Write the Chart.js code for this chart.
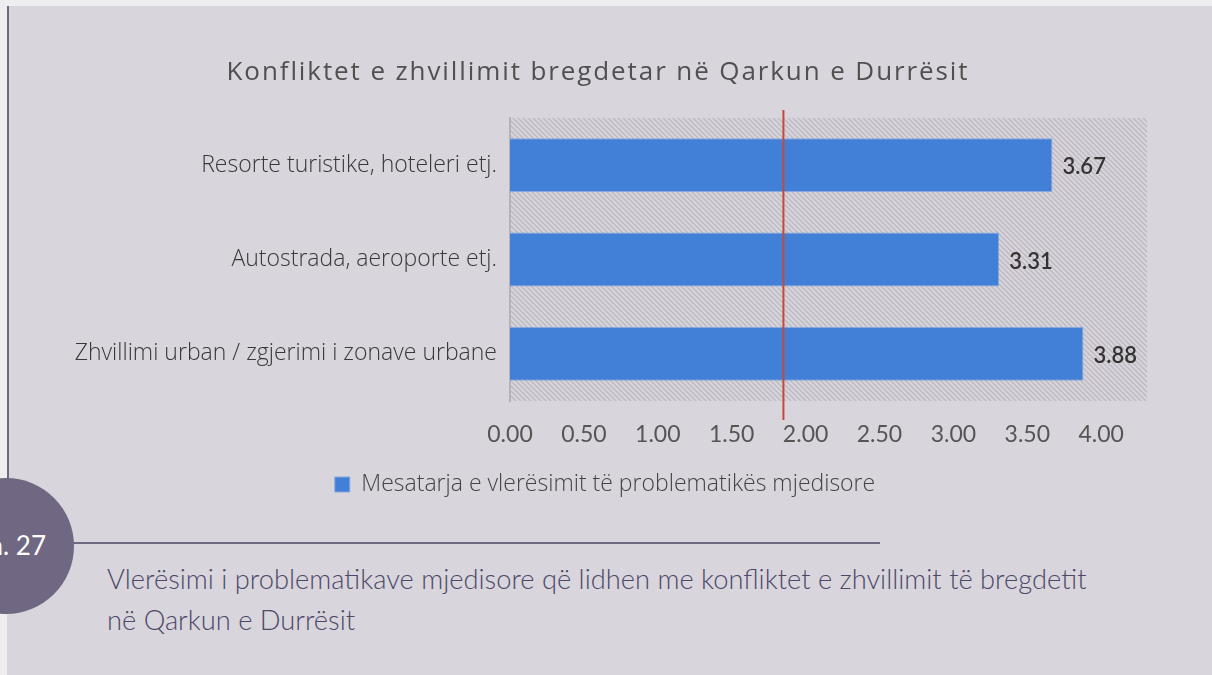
<!DOCTYPE html>
<html>
<head>
<meta charset="utf-8">
<script src="https://cdn.jsdelivr.net/npm/chart.js@4.4.1/dist/chart.umd.min.js"></script>
<style>
  html, body { margin: 0; padding: 0; background: #eeeeee; }
  body { width: 1212px; height: 675px; position: relative; overflow: hidden; }
  #panel { position: absolute; left: 7px; top: 6px; right: 0; bottom: 0; background: #d8d5dc; }
  #vline { position: absolute; left: 7px; top: 6px; width: 2px; height: 475px; background: #706882; }
  #hline { position: absolute; left: 70px; top: 542px; width: 810px; height: 2px; background: #706882; }
  #circle { position: absolute; left: -62px; top: 478px; width: 136px; height: 136px; border-radius: 50%; background: #706882; }
  #fig { position: absolute; right: 1166px; top: 529px; color: #ffffff; font: 26px Lato, sans-serif; white-space: nowrap; }
  #caption { position: absolute; left: 107px; top: 558px; width: 1090px; color: #4c4868; font: 300 27.3px Lato, sans-serif; line-height: 41px; }
  #wrap { position: absolute; left: 0; top: 0; width: 1212px; height: 520px; }
</style>
</head>
<body>
<div id="panel"></div>
<div id="vline"></div>
<div id="hline"></div>
<div id="circle"></div>
<div id="fig">n. 27</div>
<div id="caption">Vlerësimi i problematikave mjedisore që lidhen me konfliktet e zhvillimit të bregdetit<br>në Qarkun e Durrësit</div>
<div id="wrap"><canvas id="grafik"></canvas></div>
<script>
const kategorite = ['Resorte turistike, hoteleri etj.', 'Autostrada, aeroporte etj.', 'Zhvillimi urban / zgjerimi i zonave urbane'];
const vlerat = [3.67, 3.31, 3.88];
const tiket = [0, 0.5, 1, 1.5, 2, 2.5, 3, 3.5, 4];
const pragu = 1.85;
const titulli = 'Konfliktet e zhvillimit bregdetar në Qarkun e Durrësit';
const emriSerise = 'Mesatarja e vlerësimit të problematikës mjedisore';

// motiv me vija diagonale per sfondin e zones se grafikut
function motivVijash(ctx) {
    const c = document.createElement('canvas');
    c.width = 5; c.height = 5;
    const g = c.getContext('2d');
    g.fillStyle = '#d8d5dc';
    g.fillRect(0, 0, 5, 5);
    g.strokeStyle = '#bbb8bf';
    g.lineWidth = 1.3;
    g.beginPath();
    g.moveTo(-1, -1); g.lineTo(6, 6);
    g.moveTo(-1, 4); g.lineTo(1, 6);
    g.moveTo(4, -1); g.lineTo(6, 1);
    g.stroke();
    return ctx.createPattern(c, 'repeat');
}

const sfondi = {
    id: 'sfondi',
    beforeDraw(chart) {
        const { ctx, chartArea: a } = chart;
        ctx.save();
        ctx.fillStyle = motivVijash(ctx);
        ctx.fillRect(a.left, a.top, a.right - a.left, a.bottom - a.top);
        // titulli, me pak hapesire midis shkronjave
        ctx.fillStyle = '#505050';
        ctx.font = '26px "Open Sans", sans-serif';
        ctx.letterSpacing = '1.9px';
        ctx.textAlign = 'center';
        ctx.textBaseline = 'alphabetic';
        ctx.fillText(titulli, 598, 80);
        ctx.restore();
    }
};

const etiketat = {
    id: 'etiketat',
    afterDatasetsDraw(chart) {
        const ctx = chart.ctx;
        const meta = chart.getDatasetMeta(0);
        ctx.save();
        ctx.fillStyle = '#333333';
        ctx.font = '600 22px Lato, sans-serif';
        ctx.textAlign = 'left';
        ctx.textBaseline = 'middle';
        meta.data.forEach((bar, i) => {
            ctx.fillText(vlerat[i].toFixed(2), bar.x + 10, bar.y + 2);
        });
        // vija e kuqe e pragut
        const x = chart.scales.x.getPixelForValue(pragu);
        ctx.strokeStyle = '#c9473a';
        ctx.lineWidth = 2;
        ctx.beginPath();
        ctx.moveTo(x, 110);
        ctx.lineTo(x, 420);
        ctx.stroke();
        ctx.restore();
    }
};

new Chart(document.getElementById('grafik'), {
    type: 'bar',
    data: {
        labels: kategorite,
        datasets: [{
            label: emriSerise,
            data: vlerat,
            backgroundColor: '#4180d6',
            borderColor: '#86a8de',
            borderWidth: 1,
            barPercentage: 0.57,
            categoryPercentage: 1
        }]
    },
    options: {
        indexAxis: 'y',
        responsive: true,
        maintainAspectRatio: false,
        animation: false,
        layout: { padding: { top: 118, right: 65, bottom: 14, left: 63 } },
        scales: {
            x: {
                min: 0,
                max: 4.31,
                grid: { display: false, drawTicks: false },
                border: { display: false },
                afterBuildTicks(s) { s.ticks = tiket.map(v => ({ value: v })); },
                ticks: {
                    padding: 20,
                    color: '#555555',
                    font: { family: 'Lato', size: 23 },
                    maxRotation: 0,
                    callback: v => v.toFixed(2)
                },
                afterFit(s) { s.height = 60; }
            },
            y: {
                grid: { display: false, drawTicks: false },
                border: { display: true, color: '#b5b3b8', width: 2 },
                ticks: {
                    padding: 13,
                    color: '#383838',
                    font: { family: 'Open Sans', size: 23, weight: 300 }
                },
                afterFit(s) { s.width = 447; }
            }
        },
        plugins: {
            title: { display: false },
            legend: {
                position: 'bottom',
                labels: {
                    boxWidth: 15,
                    boxHeight: 15,
                    padding: 12,
                    color: '#444444',
                    font: { family: 'Open Sans', size: 23, weight: 300 }
                }
            },
            tooltip: { enabled: false }
        }
    },
    plugins: [sfondi, etiketat]
});
</script>
</body>
</html>
